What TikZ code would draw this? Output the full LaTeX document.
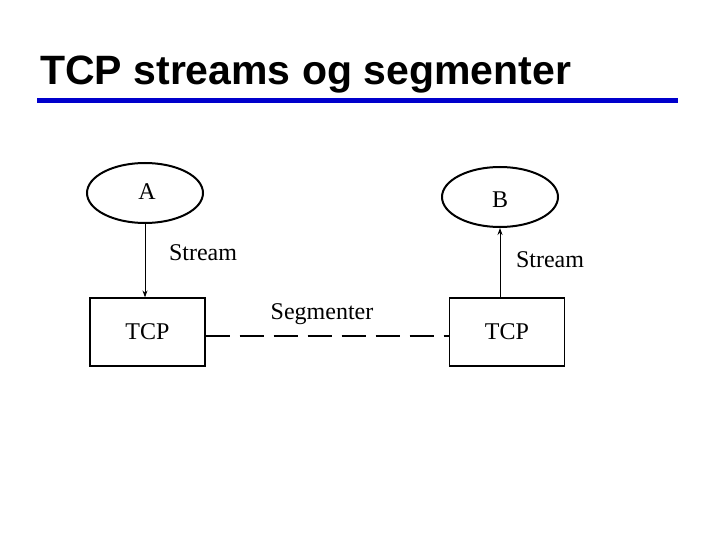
\documentclass[tikz,border=0pt]{standalone}
\usepackage{fontspec}
\setmainfont{Liberation Serif}
\newfontfamily\titlefont{Liberation Sans}
\usetikzlibrary{shapes.geometric,arrows.meta}
\definecolor{titleblue}{RGB}{0,0,204}
\begin{document}
\begin{tikzpicture}[x=1pt,y=-1pt,
  proc/.style={draw,ellipse,line width=2pt,minimum width=116pt,minimum height=60pt},
  box/.style={draw,line width=1.2pt,minimum width=115pt,minimum height=68pt,font=\fontsize{24}{28}\selectfont},
  lbl/.style={font=\fontsize{24}{28}\selectfont},
  arr/.style={-{Stealth[length=7pt,width=5pt]},line width=1pt}]
\useasboundingbox (0,0) rectangle (720,540);
\node[anchor=base west,inner sep=0pt,font=\titlefont\bfseries\fontsize{41}{46}\selectfont] (title) at (40,85) {TCP streams og segmenter};
\draw[titleblue,line width=5pt] (37,101) -- (678,101);
\node[proc] (A) at (145,193) {};
\node[lbl] (Atxt) at (147,192) {A};
\node[proc] (B) at (500,197) {};
\node[lbl] (Btxt) at (500,200) {B};
\node[box] (T1) at (147.5,332) {TCP};
\node[box] (T2) at (507,332) {TCP};
\draw[arr] (A.south) -- (T1.north -| A.south);
\draw[arr] (T2.north -| B.south) -- (B.south);
\node[lbl] (s1) at (203,253) {Stream};
\node[lbl] (s2) at (550,260) {Stream};
\node[lbl] (seg) at (322,314) {Segmenter};
\draw[line width=2.5pt,dash pattern=on 24pt off 10pt] (T1.east |- 0,336) -- (T2.west |- 0,336);
\end{tikzpicture}
\end{document}
